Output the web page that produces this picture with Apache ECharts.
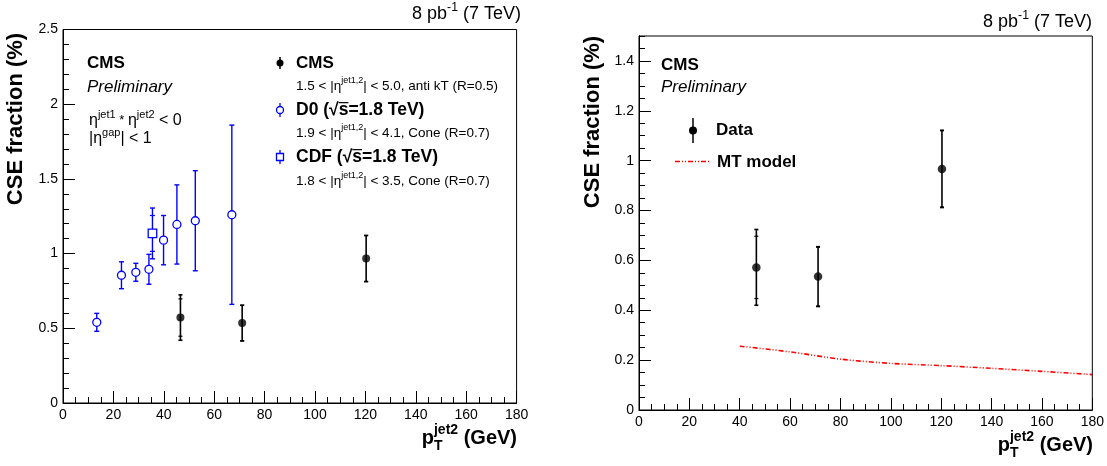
<!DOCTYPE html>
<html>
<head>
<meta charset="utf-8">
<script src="https://cdn.jsdelivr.net/npm/echarts@6/dist/echarts.min.js"></script>
<style>
html,body{margin:0;padding:0;background:#fff;}
#c{width:1107px;height:466px;}
</style>
</head>
<body>
<div id="c"></div>
<script>
// ---------------- DATA ----------------
const xTicks = [0, 20, 40, 60, 80, 100, 120, 140, 160, 180];
// D0 (sqrt(s)=1.8 TeV)
const d0X   = [13.4, 23.2, 28.9, 34.1, 39.9, 45.2, 52.5, 67.0];
const d0Y   = [0.54, 0.855, 0.875, 0.895, 1.09, 1.195, 1.22, 1.26];
const d0Err = [0.06, 0.09, 0.06, 0.10, 0.165, 0.265, 0.335, 0.60];
// CDF (sqrt(s)=1.8 TeV)
const cdfX = [35.5];
const cdfY = [1.135];
const cdfErrTot = [0.17];
const cdfErrStat = [0.12];
// CMS data
const cmsX = [46.6, 71.1, 120.3];
const cmsY = [0.572, 0.535, 0.967];
const cmsErrTot = [0.152, 0.12, 0.155];
const cmsErrStat = [0.125, 0.118, 0.153];
// MT model
const mtX = [40, 60, 80, 100, 120, 140, 160, 180];
const mtY = [0.256, 0.233, 0.204, 0.187, 0.178, 0.167, 0.155, 0.142];

// ---------------- HELPERS ----------------
const FF = '"Liberation Sans", Arial, Helvetica, sans-serif';
const ctx = document.createElement('canvas').getContext('2d');
function fontStr(p){ return (p.it?'italic ':'') + (p.b?'bold ':'') + p.s + 'px ' + FF; }
function rich(x, y, parts, align, color){
  color = color || '#000';
  let cx = 0, hold = 0; const items = [];
  parts.forEach(p => {
    ctx.font = fontStr(p);
    const w = ctx.measureText(p.t).width;
    items.push({p, x: cx, w});
    if (p.hold) { hold = Math.max(hold, w); }
    else { cx += Math.max(w, hold); hold = 0; }
  });
  const x0 = align === 'right' ? x - cx : (align === 'center' ? x - cx/2 : x);
  const els = [];
  items.forEach(it => {
    els.push({type:'text', x: x0 + it.x, y: y + (it.p.dy||0), z: 100, silent: true,
      style:{text: it.p.t, font: fontStr(it.p), fill: color, align:'left', verticalAlign:'middle',
             textAlign:'left', textVerticalAlign:'middle'}});
    if (it.p.ol) {
      const top = y - it.p.s*0.42;
      els.push({type:'line', z:100, silent:true, shape:{x1:x0+it.x, y1: top, x2: x0+it.x+it.w, y2: top},
        style:{stroke: color, lineWidth: 1.2}});
    }
  });
  return els;
}
function legendLine(sub){
  return [
    {t:sub[0], s:13.5}, {t:'|η', s:13.5}, {t:'jet1,2', s:9, dy:-5}, {t:sub[1], s:13.5}
  ];
}
function expTitle(rx, y, size){
  return rich(rx, y, [
    {t:'8 pb', s:size}, {t:'-1', s:size*0.68, dy:-size*0.33}, {t:' (7 TeV)', s:size}
  ], 'right');
}
function xTitle(rx, y){
  return rich(rx, y, [
    {t:'p', s:20, b:true}, {t:'T', s:14, b:true, dy:8, hold:true}, {t:'jet2', s:14, b:true, dy:-8},
    {t:' (GeV)', s:20, b:true}
  ], 'right');
}
function yTitle(x, y){
  return {type:'text', x, y, rotation: Math.PI/2, z:100, silent:true,
    style:{text:'CSE fraction (%)', font:'bold 22px ' + FF, fill:'#000', align:'center', verticalAlign:'middle',
           textAlign:'center', textVerticalAlign:'middle'}};
}

function errSeries(name, xi, yi, xs, ys, tot, stat, color, lw, capTot, capStat){
  return {
    type:'custom', name, xAxisIndex: xi, yAxisIndex: yi, z: 2, silent: true,
    data: xs.map((x,i)=>[x, ys[i], ys[i]-tot[i], ys[i]+tot[i], ys[i]-stat[i], ys[i]+stat[i]]),
    encode:{x:0, y:[2,3]},
    renderItem: function(params, api){
      const x = api.value(0);
      const a = api.coord([x, api.value(2)]), b = api.coord([x, api.value(3)]);
      const s1 = api.coord([x, api.value(4)]), s2 = api.coord([x, api.value(5)]);
      const ch = [{type:'line', shape:{x1:a[0], y1:a[1], x2:b[0], y2:b[1]}, style:{stroke:color, lineWidth:lw}}];
      if (capTot) {
        [a,b].forEach(p=>ch.push({type:'line', shape:{x1:p[0]-capTot, y1:p[1], x2:p[0]+capTot, y2:p[1]}, style:{stroke:color, lineWidth:lw}}));
      }
      if (capStat) {
        [s1,s2].forEach(p=>ch.push({type:'line', shape:{x1:p[0]-capStat, y1:p[1], x2:p[0]+capStat, y2:p[1]}, style:{stroke:color, lineWidth:1.2}}));
      }
      return {type:'group', children: ch};
    }
  };
}

const axisCommon = {
  type:'value',
  axisLine:{show:true, onZero:false, lineStyle:{color:'#000', width:1}},
  axisTick:{show:true, inside:true, length:12, lineStyle:{color:'#000', width:1}},
  minorTick:{show:true, length:6, lineStyle:{color:'#000', width:1}},
  splitLine:{show:false},
  axisLabel:{color:'#000', fontSize:14, fontFamily:FF}
};
function xAx(gi, labelMargin){
  return Object.assign({}, axisCommon, {gridIndex: gi, position:'bottom', min: xTicks[0], max: xTicks[xTicks.length-1], interval: xTicks[1]-xTicks[0],
    minorTick: Object.assign({}, axisCommon.minorTick, {splitNumber:4}),
    axisLabel: Object.assign({}, axisCommon.axisLabel, {margin: labelMargin})});
}

const blue = '#0000ff';

const graphics = [].concat(
  // left panel texts
  rich(87, 63, [{t:'CMS', s:17, b:true}]),
  rich(87, 87, [{t:'Preliminary', s:17, it:true}]),
  rich(89, 121, [{t:'η', s:16}, {t:'jet1', s:11, dy:-6}, {t:' * ', s:13, dy:-1}, {t:'η', s:16}, {t:'jet2', s:11, dy:-6}, {t:' < 0', s:16}]),
  rich(89, 139, [{t:'|η', s:16}, {t:'gap', s:11, dy:-6}, {t:'| < 1', s:16}]),
  rich(296, 63, [{t:'CMS', s:17, b:true}]),
  rich(296, 86, legendLine(['1.5 < ', '| < 5.0, anti kT (R=0.5)'])),
  rich(296, 110, [{t:'D0 (', s:17.5, b:true}, {t:'√', s:17.5, b:true}, {t:'s', s:17.5, b:true, ol:true}, {t:'=1.8 TeV)', s:17.5, b:true}]),
  rich(296, 133, legendLine(['1.9 < ', '| < 4.1, Cone (R=0.7)'])),
  rich(296, 157, [{t:'CDF (', s:17.5, b:true}, {t:'√', s:17.5, b:true}, {t:'s', s:17.5, b:true, ol:true}, {t:'=1.8 TeV)', s:17.5, b:true}]),
  rich(296, 181, legendLine(['1.8 < ', '| < 3.5, Cone (R=0.7)'])),
  expTitle(521, 14, 18),
  xTitle(517, 438),
  [yTitle(16, 119)],
  // left legend markers
  [
    {type:'line', z:100, shape:{x1:280, y1:57, x2:280, y2:69}, style:{stroke:'#000', lineWidth:1.5}},
    {type:'circle', z:101, shape:{cx:280, cy:63, r:3.5}, style:{fill:'#000'}},
    {type:'line', z:100, shape:{x1:280, y1:103, x2:280, y2:117}, style:{stroke:blue, lineWidth:1.3}},
    {type:'circle', z:101, shape:{cx:280, cy:110, r:3.5}, style:{fill:'#fff', stroke:blue, lineWidth:1.3}},
    {type:'line', z:100, shape:{x1:280, y1:150, x2:280, y2:164}, style:{stroke:blue, lineWidth:1.3}},
    {type:'rect', z:101, shape:{x:276.5, y:153.5, width:7, height:7}, style:{fill:'#fff', stroke:blue, lineWidth:1.3}}
  ],
  // right panel texts
  rich(661, 65, [{t:'CMS', s:17, b:true}]),
  rich(661, 87, [{t:'Preliminary', s:17, it:true}]),
  rich(716, 130, [{t:'Data', s:17, b:true}]),
  rich(717, 162, [{t:'MT model', s:17, b:true}]),
  expTitle(1092, 22, 18),
  xTitle(1093, 445),
  [yTitle(593, 122)],
  [
    {type:'line', z:100, shape:{x1:693, y1:118, x2:693, y2:143}, style:{stroke:'#000', lineWidth:1.5}},
    {type:'circle', z:101, shape:{cx:693, cy:130.5, r:4}, style:{fill:'#000'}},
    {type:'line', z:100, shape:{x1:675, y1:161.5, x2:709, y2:161.5}, style:{stroke:'#ff0000', lineWidth:1.5, lineDash:[5,2,1,2,1,2]}}
  ]
);

const chart = echarts.init(document.getElementById('c'), null, {renderer:'canvas'});
chart.setOption({
  animation:false,
  backgroundColor:'#fff',
  grid:[
    {left:63, top:29.5, width:453.6, height:373.5, show:true, borderColor:'#000', borderWidth:1, backgroundColor:'transparent'},
    {left:639, top:36, width:453.7, height:374, show:true, borderColor:'#000', borderWidth:1, backgroundColor:'transparent'}
  ],
  xAxis:[ xAx(0, 5), xAx(1, 5) ],
  yAxis:[
    Object.assign({}, axisCommon, {gridIndex:0, position:'left', min:0, max:2.5, interval:0.5,
      minorTick:Object.assign({}, axisCommon.minorTick, {splitNumber:5}),
      axisLabel:Object.assign({}, axisCommon.axisLabel, {margin:5})}),
    Object.assign({}, axisCommon, {gridIndex:1, position:'left', offset:0, min:0, max:1.5, interval:0.05,
      axisTick:Object.assign({}, axisCommon.axisTick, {length:6}),
      minorTick:{show:false}, axisLabel:{show:false}}),
    Object.assign({}, axisCommon, {gridIndex:1, position:'left', offset:0, min:0, max:1.5, interval:0.2,
      minorTick:{show:false},
      axisLabel:Object.assign({}, axisCommon.axisLabel, {margin:5, showMaxLabel:false,
        formatter: v => (Math.round(v*10)/10).toString()})})
  ],
  series:[
    errSeries('D0 err', 0, 0, d0X, d0Y, d0Err, d0Err, blue, 1.4, 2.5, 0),
    errSeries('CDF err', 0, 0, cdfX, cdfY, cdfErrTot, cdfErrStat, blue, 1.4, 2.5, 2.5),
    errSeries('CMS err L', 0, 0, cmsX, cmsY, cmsErrTot, cmsErrStat, '#000', 1.6, 2, 2),
    errSeries('CMS err R', 1, 2, cmsX, cmsY, cmsErrTot, cmsErrStat, '#000', 1.6, 2, 2),
    {type:'scatter', name:'D0', xAxisIndex:0, yAxisIndex:0, z:5, symbol:'circle', symbolSize:8,
      itemStyle:{color:'#fff', borderColor:blue, borderWidth:1.3, opacity:1},
      data: d0X.map((x,i)=>[x, d0Y[i]])},
    {type:'scatter', name:'CDF', xAxisIndex:0, yAxisIndex:0, z:5, symbol:'rect', symbolSize:8.5,
      itemStyle:{color:'#fff', borderColor:blue, borderWidth:1.3, opacity:1},
      data: cdfX.map((x,i)=>[x, cdfY[i]])},
    {type:'scatter', name:'CMS L', xAxisIndex:0, yAxisIndex:0, z:5, symbol:'circle', symbolSize:8,
      itemStyle:{color:'#000'}, data: cmsX.map((x,i)=>[x, cmsY[i]])},
    {type:'scatter', name:'CMS R', xAxisIndex:1, yAxisIndex:2, z:5, symbol:'circle', symbolSize:8.5,
      itemStyle:{color:'#000'}, data: cmsX.map((x,i)=>[x, cmsY[i]])},
    {type:'line', name:'MT model', xAxisIndex:1, yAxisIndex:2, z:4, showSymbol:false, smooth:0.3,
      lineStyle:{color:'#ff0000', width:1.6, type:[5,2,1,2,1,2]},
      data: mtX.map((x,i)=>[x, mtY[i]])}
  ],
  graphic: graphics
});
</script>
</body>
</html>
